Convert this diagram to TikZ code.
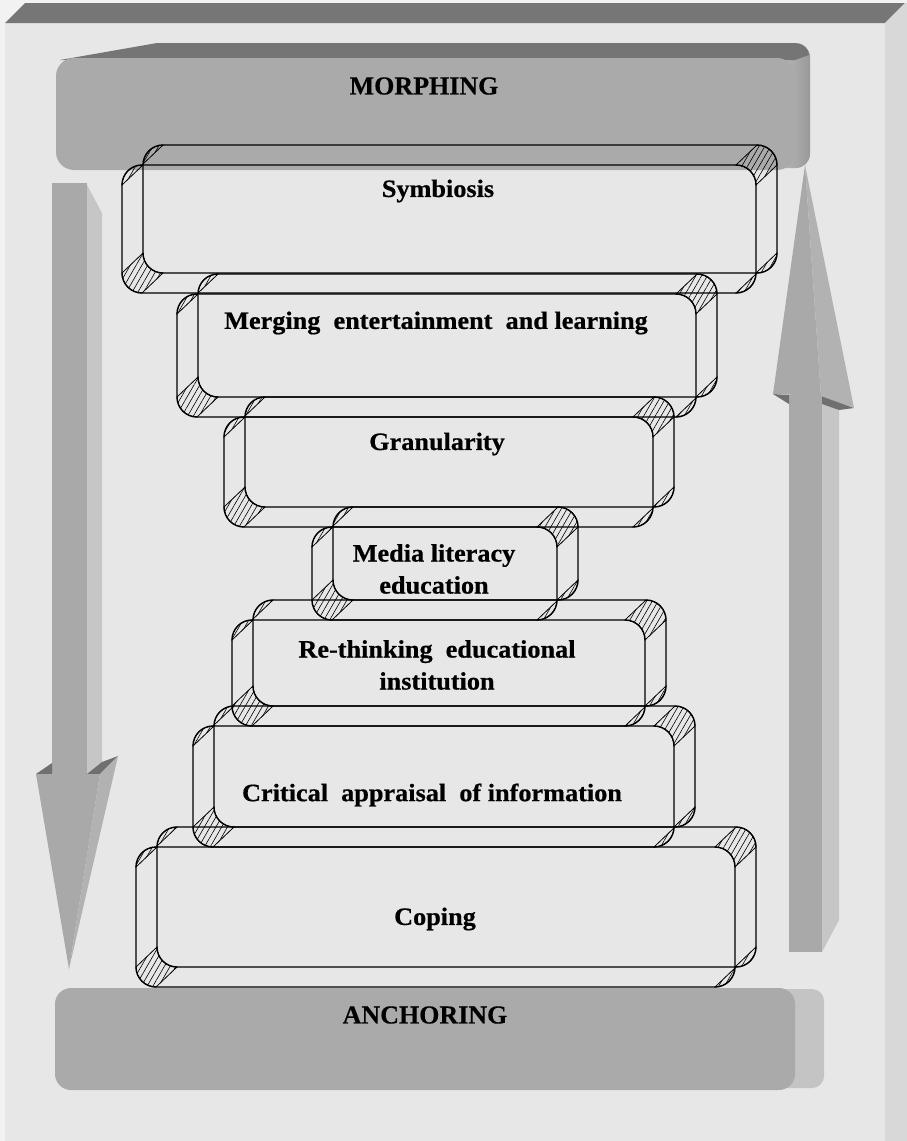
\documentclass[tikz,border=0pt]{standalone}
\usepackage{fontspec}
\setmainfont{Liberation Serif}
\newfontfamily\slabfont{Liberation Serif}[FakeStretch=1.05,FakeBold=0.6]
\newfontfamily\barfont{Liberation Serif}[FakeBold=0.3]
\usetikzlibrary{patterns.meta}

\definecolor{panelface}{HTML}{E7E7E7}
\definecolor{paneltop}{HTML}{767676}
\definecolor{panelside}{HTML}{D8D8D8}
\definecolor{barface}{HTML}{AAAAAA}
\definecolor{bartop}{HTML}{757575}
\definecolor{barside}{HTML}{C4C4C4}
\definecolor{arrowface}{HTML}{A9A9A9}
\definecolor{arrowside}{HTML}{C6C6C6}
\definecolor{arrowdark}{HTML}{707070}

\tikzset{
  slabline/.style={draw=black, line width=1.4pt},
  hatchband/.style={draw=black, line width=0.8pt,
    pattern={Lines[angle=60,distance=5pt,line width=0.6pt]}},
  slablabel/.style={font=\slabfont\bfseries\fontsize{25}{32}\selectfont,
    align=center, inner sep=0pt},
  barlabel/.style={font=\barfont\bfseries\fontsize{26}{30}\selectfont, inner sep=0pt},
}

% An extruded rounded slab: front face #1,#2 -- #3,#4 (left, top, right, bottom),
% back face shifted by (21,-20); the rounded corners are swept as hatched bands.
\newcommand\slab[4]{%
  \path[hatchband] (#3-20,#2) arc[start angle=270,end angle=360,radius=20]
     -- ++(21,-20) arc[start angle=360,end angle=270,radius=20] -- cycle;
  \path[hatchband] (#3,#4-20) arc[start angle=0,end angle=90,radius=20]
     -- ++(21,-20) arc[start angle=90,end angle=0,radius=20] -- cycle;
  \path[hatchband] (#1+20,#4) arc[start angle=90,end angle=180,radius=20]
     -- ++(21,-20) arc[start angle=180,end angle=90,radius=20] -- cycle;
  \path[hatchband] (#1,#2+20) arc[start angle=180,end angle=270,radius=20]
     -- ++(21,-20) arc[start angle=270,end angle=180,radius=20] -- cycle;
  \draw[slabline, rounded corners=20pt] (#1+21,#2-20) rectangle (#3+21,#4-20);
  \draw[slabline, rounded corners=20pt] (#1,#2) rectangle (#3,#4);
}

\begin{document}
\begin{tikzpicture}[x=1pt,y=-1pt]
\useasboundingbox (0,0) rectangle (907,1141);

% panel
\fill[white!95!black] (0,0) rectangle (907,1141);
\fill[panelface] (5,23) rectangle (885,1141);
\fill[paneltop] (5,23) -- (25,3) -- (905,3) -- (885,23) -- cycle;
\fill[panelside] (885,23) -- (905,3) -- (907,3) -- (907,1141) -- (885,1141) -- cycle;

% downward arrow on the left
\fill[arrowface] (52,183) rectangle (87,774);
\fill[arrowside] (87,185) -- (102,213) -- (102,762) -- (87,774) -- cycle;
\fill[arrowdark] (36,774) -- (52,763) -- (52,774) -- cycle;
\fill[arrowdark] (87,774) -- (102,762) -- (118,756) -- (100,774) -- cycle;
\fill[arrowface] (36,774) -- (100,774) -- (69,969) -- cycle;
\fill[arrowside!90!black] (100,774) -- (118,756) -- (69,969) -- cycle;

% upward arrow on the right
\fill[arrowface] (789,395) rectangle (822,952);
\fill[arrowside] (822,404) -- (839,410) -- (839,920) -- (822,952) -- cycle;
\fill[arrowdark] (773,394) -- (789,395) -- (789,404) -- cycle;
\fill[arrowdark] (822,395) -- (854,408) -- (839,410) -- (822,404) -- cycle;
\fill[arrowface] (773,394) -- (805,165) -- (821,396) -- cycle;
\fill[arrowside!90!black] (805,165) -- (854,408) -- (821,396) -- cycle;

% top bar
\shade[left color=barside, right color=barface!90!black, rounded corners=14pt]
  (770,43) rectangle (810,168);
\fill[bartop] (60,60) -- (157,43) -- (792,43)
  .. controls (802,43) and (808,47) .. (809,55) -- (795,60) -- cycle;
\fill[barface, rounded corners=18pt] (56,58) rectangle (795,170);
\node[barlabel] (morph) at (424,86) {MORPHING};

% bottom bar
\fill[barside, rounded corners=12pt] (775,989) rectangle (824,1088);
\fill[barface, rounded corners=16pt] (55,988) rectangle (795,1090);
\node[barlabel] (anchor) at (425,1015) {ANCHORING};

% stacked slabs
\slab{122}{165}{756}{293}
\slab{177}{294}{696}{417}
\slab{224}{417}{653}{527}
\slab{312}{527}{557}{620}
\slab{232}{620}{645}{726}
\slab{193}{726}{674}{847}
\slab{136}{847}{735}{987}

\node[slablabel] (symb) at (438,191) {Symbiosis};
\node[slablabel] (merge) at (436,323) {Merging\ \ entertainment\ \ and learning};
\node[slablabel] (gran) at (437,444) {Granularity};
\node[slablabel] (media) at (434,569) {Media literacy\\education};
\node[slablabel] (rethink) at (437,665) {Re-thinking\ \ educational\\institution};
\node[slablabel] (crit) at (432,795) {Critical\ \ appraisal\ \ of information};
\node[slablabel] (coping) at (435,919) {Coping};
\end{tikzpicture}
\end{document}
